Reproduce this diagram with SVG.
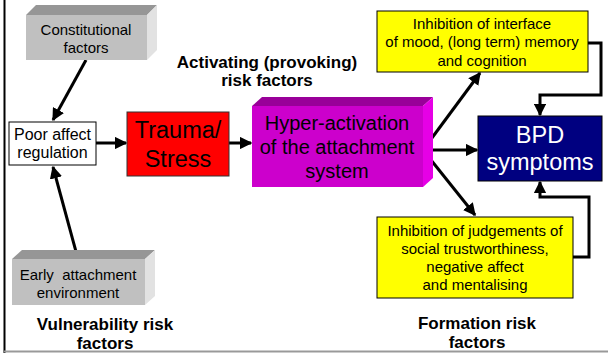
<svg xmlns="http://www.w3.org/2000/svg" width="608" height="353" viewBox="0 0 608 353">
<defs>
<marker id="ah" viewBox="0 0 10 10" refX="9" refY="5" markerWidth="4.2" markerHeight="4.2" markerUnits="strokeWidth" orient="auto">
<path d="M0,0 L10,5 L0,10 z" fill="#000"/>
</marker>
<style>
text{font-family:"Liberation Sans",Arial,sans-serif;text-anchor:middle;fill:#000}
.c{stroke:#000;stroke-width:3;fill:none;marker-end:url(#ah)}
.g-front{fill:#c0c0c0}
.g-top{fill:#969696}
.g-side{fill:#e2e2e2}
.lbl{font-size:17px;font-weight:bold}
.t15{font-size:15px}
.t16{font-size:16px}
.big{font-size:23.5px}
.mid{font-size:20px}
</style>
</defs>
<rect width="608" height="353" fill="#fff"/>
<line x1="4.5" y1="0" x2="4.5" y2="353" stroke="#000" stroke-width="2"/>
<line x1="4" y1="351.5" x2="608" y2="351.5" stroke="#999" stroke-width="2"/>

<g id="connectors">
<line class="c" x1="86" y1="60" x2="53" y2="120"/>
<line class="c" x1="78" y1="259" x2="53" y2="167"/>
<line class="c" x1="96" y1="143" x2="126" y2="143"/>
<line class="c" x1="229" y1="143" x2="251" y2="143"/>
<polyline class="c" points="423,150 480,73"/>
<line class="c" x1="423" y1="150" x2="477" y2="150"/>
<polyline class="c" points="423,150 475,215"/>
<polyline class="c" points="588,43 601,43 601,95 540,95 540,115"/>
<polyline class="c" points="573,257 589,257 589,197 540,197 540,182"/>
</g>

<g id="constitutional">
<polygon class="g-top" points="26,15 36,5 157,5 147,15"/>
<polygon class="g-side" points="147,15 157,5 157,50 147,60"/>
<rect class="g-front" x="26" y="15" width="121" height="45"/>
<text class="t15" x="86" y="35">Constitutional</text>
<text class="t15" x="86" y="53">factors</text>
</g>

<g id="early">
<polygon class="g-top" points="12,259 22,250 155,250 145,259"/>
<polygon class="g-side" points="145,259 155,250 155,296 145,305"/>
<rect class="g-front" x="12" y="259" width="133" height="46"/>
<text class="t15" x="78" y="280" xml:space="preserve">Early  attachment</text>
<text class="t15" x="78" y="298">environment</text>
</g>

<g id="poor">
<rect x="9" y="122" width="87" height="43" fill="#fff" stroke="#000" stroke-width="1"/>
<text class="t16" x="52.5" y="140">Poor affect</text>
<text class="t16" x="52.5" y="158">regulation</text>
</g>

<g id="trauma">
<rect x="127" y="112" width="102" height="64" fill="#ff0000" stroke="#333" stroke-width="1"/>
<text class="big" x="178" y="138">Trauma/</text>
<text class="big" x="178" y="167">Stress</text>
</g>

<g id="hyper">
<polygon points="252,106 262,97 433,97 423,106" fill="#990099"/>
<polygon points="423,106 433,97 433,178 423,187" fill="#e600e6"/>
<rect x="252" y="106" width="171" height="81" fill="#cc00cc"/>
<text class="mid" x="337" y="130">Hyper-activation</text>
<text class="mid" x="337" y="154">of the attachment</text>
<text class="mid" x="337" y="178">system</text>
</g>

<g id="inhib-top">
<rect x="377" y="11" width="211" height="61" fill="#ffff00" stroke="#000" stroke-width="1"/>
<text class="t15" x="482" y="29">Inhibition of interface</text>
<text class="t15" x="482" y="47">of mood, (long term) memory</text>
<text class="t15" x="482" y="66">and cognition</text>
</g>

<g id="bpd">
<rect x="478" y="116" width="124" height="65" fill="#000080" stroke="#000" stroke-width="1"/>
<text class="big" x="540" y="143" style="fill:#fff">BPD</text>
<text class="big" x="540" y="170" style="fill:#fff">symptoms</text>
</g>

<g id="inhib-bottom">
<rect x="377" y="217" width="196" height="81" fill="#ffff00" stroke="#000" stroke-width="1"/>
<text class="t15" x="475" y="236">Inhibition of judgements of</text>
<text class="t15" x="475" y="254">social trustworthiness,</text>
<text class="t15" x="475" y="272">negative affect</text>
<text class="t15" x="475" y="290">and mentalising</text>
</g>

<g id="labels">
<text class="lbl" x="267" y="68">Activating (provoking)</text>
<text class="lbl" x="267" y="86">risk factors</text>
<text class="lbl" x="105" y="330">Vulnerability risk</text>
<text class="lbl" x="105" y="349">factors</text>
<text class="lbl" x="477" y="329">Formation risk</text>
<text class="lbl" x="477" y="348">factors</text>
</g>
</svg>
